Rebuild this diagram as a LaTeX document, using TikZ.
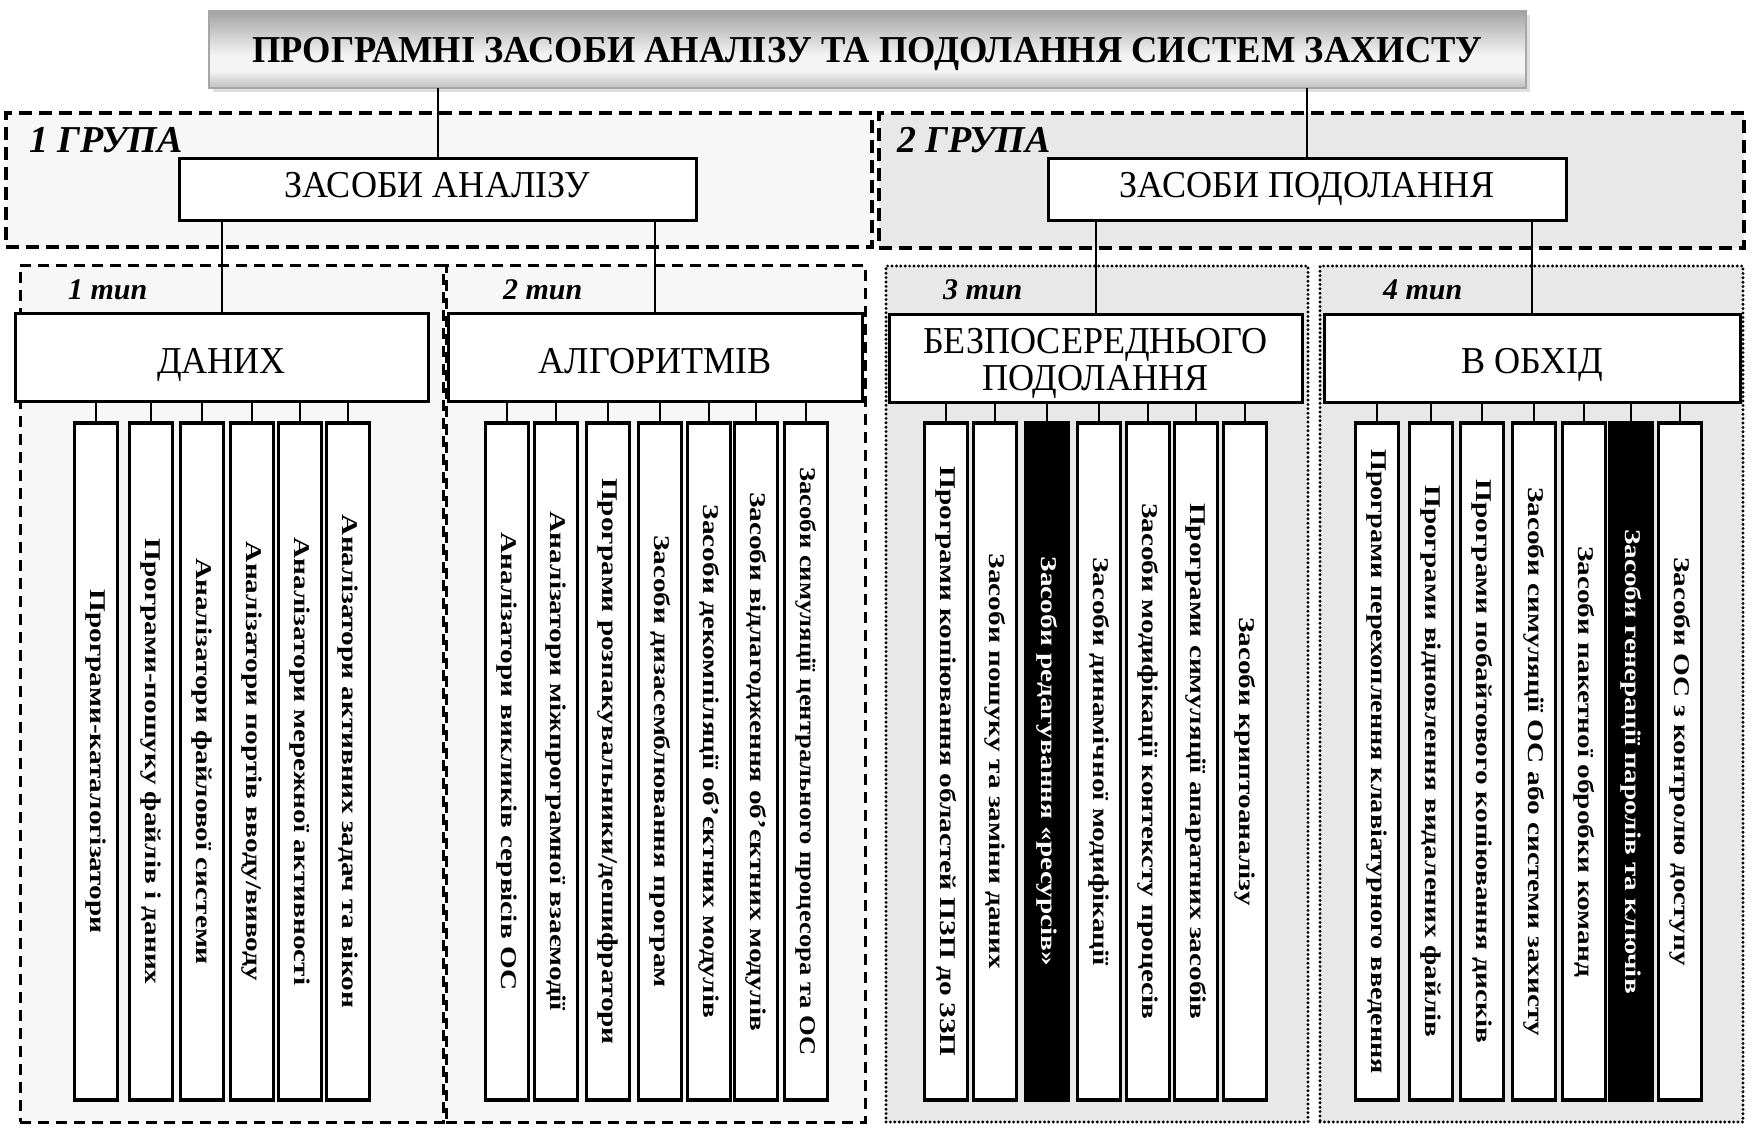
\documentclass[tikz,border=0pt]{standalone}
\usepackage{fontspec}
\setmainfont{Liberation Serif}
% slightly narrow faces for the box captions and the title
\newfontfamily\boxfont[FakeStretch=0.95]{Liberation Serif}
\newfontfamily\titlefont[FakeStretch=0.96]{Liberation Serif}
% wide bold faces for the vertical item labels (the longest ones a little narrower)
\newfontfamily\leaffont[FakeStretch=1.3]{Liberation Serif}
\newfontfamily\leaffontM[FakeStretch=1.25]{Liberation Serif}
\newfontfamily\leaffontN[FakeStretch=1.18]{Liberation Serif}
\usetikzlibrary{fit}

\definecolor{paleA}{HTML}{F7F7F7}
\definecolor{paleB}{HTML}{E8E8E8}
\definecolor{ttlTop}{HTML}{A3A3A3}
\definecolor{ttlMid}{HTML}{F4F4F4}
\definecolor{ttlBot}{HTML}{BDBDBD}
% title bar: dark top, light band low in the middle, grey bottom
\pgfdeclareverticalshading{ttlshade}{100bp}{color(0bp)=(ttlBot); color(25bp)=(ttlBot); color(36bp)=(ttlMid); color(46bp)=(ttlMid); color(75bp)=(ttlTop); color(100bp)=(ttlTop)}

\begin{document}
\begin{tikzpicture}[x=0.5pt, y=-0.5pt,
  every node/.style={inner sep=0pt, outer sep=0pt},
  grp/.style={draw, line width=2pt, dash pattern=on 6.5pt off 3.5pt},
  grpA/.style={grp, fill=paleA},
  grpB/.style={grp, fill=paleB},
  typeA/.style={draw, line width=1.5pt, dash pattern=on 5.5pt off 3.5pt, fill=paleA},
  typeB/.style={draw, line width=1.6pt, dash pattern=on 0pt off 2.2pt, line cap=round, fill=paleB},
  box/.style={draw, line width=1.5pt, fill=white},
  caption/.style={anchor=base, font=\boxfont\fontsize{19}{22}\selectfont},
  grplab/.style={anchor=base west, font=\bfseries\itshape\fontsize{19}{22}\selectfont},
  typelab/.style={anchor=base west, font=\bfseries\itshape\fontsize{15}{18}\selectfont},
  leaf/.style={box, line width=1.6pt, rotate=-90, minimum width=338.5pt, minimum height=21.5pt,
    font=\leaffont\bfseries\fontsize{11.25}{13}\selectfont},
  leafM/.style={leaf, font=\leaffontM\bfseries\fontsize{11.25}{13}\selectfont},
  leafN/.style={leaf, font=\leaffontN\bfseries\fontsize{11.25}{13}\selectfont},
  dark/.style={fill=black, text=white},
  conn/.style={line width=1pt}]

\fill[white] (0,0) rectangle (1754,1129);
\useasboundingbox (0,0) rectangle (1754,1129);

% title bar with its soft shadow
\fill[gray!25] (213,15) rectangle (1530,92);
\node[shade, shading=ttlshade, draw=gray!70, line width=0.6pt,
  minimum width=658.5pt, minimum height=38.5pt,
  font=\titlefont\bfseries\fontsize{19}{22}\selectfont, text height=12.6pt, text depth=0pt] (title)
  at (867.5,49.5) {ПРОГРАМНІ ЗАСОБИ АНАЛІЗУ ТА ПОДОЛАННЯ СИСТЕМ ЗАХИСТУ};

% the two groups
\node[grpA, fit={(6,113)(872,247)}] (g1) {};
\node[grpB, fit={(879,113)(1744,248)}] (g2) {};
\node[grplab] (g1lab) at (29,152) {1 ГРУПА};
\node[grplab] (g2lab) at (897,152) {2 ГРУПА};

% the four types
\node[typeA, fit={(20,265)(443,1122)}] (t1) {};
\node[typeA, fit={(446,265)(865,1122)}] (t2) {};
\node[typeB, fit={(886,266)(1308,1122)}] (t3) {};
\node[typeB, fit={(1320,266)(1743,1122)}] (t4) {};
\node[typelab] (t1lab) at (68,299) {1 тип};
\node[typelab] (t2lab) at (503,299) {2 тип};
\node[typelab] (t3lab) at (943,299) {3 тип};
\node[typelab] (t4lab) at (1383,299) {4 тип};

% second level
\node[box, minimum width=258.5pt, minimum height=31pt] (za) at (437.5,189) {};
\node[box, minimum width=259pt, minimum height=31pt] (zp) at (1307,189) {};
\node[caption] (zatxt) at (437.5,197) {ЗАСОБИ АНАЛІЗУ};
\node[caption] (zptxt) at (1307,197) {ЗАСОБИ ПОДОЛАННЯ};

% third level
\node[box, minimum width=206.5pt, minimum height=44pt] (dan) at (221.5,357) {};
\node[box, minimum width=207pt, minimum height=44pt] (alg) at (655,357) {};
\node[box, minimum width=206.5pt, minimum height=44pt] (bp) at (1095.5,358) {};
\node[box, minimum width=208pt, minimum height=44pt] (obh) at (1532,358) {};
\node[caption] (dantxt) at (221.5,373) {ДАНИХ};
\node[caption] (algtxt) at (655,373) {АЛГОРИТМІВ};
\node[caption] (bptxtA) at (1095.5,353) {БЕЗПОСЕРЕДНЬОГО};
\node[caption] (bptxtB) at (1095.5,390) {ПОДОЛАННЯ};
\node[caption] (obhtxt) at (1532,373) {В ОБХІД};

% items of type 1
\node[leaf] (a1) at (96,761.5)  {Програми-каталогізатори};
\node[leaf] (a2) at (151,761.5) {Програми-пошуку файлів і даних};
\node[leaf] (a3) at (202,761.5) {Аналізатори файлової системи};
\node[leaf] (a4) at (252,761.5) {Аналізатори портів вводу/виводу};
\node[leaf] (a5) at (300,761.5) {Аналізатори мережної активності};
\node[leaf] (a6) at (348,761.5) {Аналізатори активних задач та вікон};

% items of type 2
\node[leaf] (b1) at (507,761.5) {Аналізатори викликів сервісів ОС};
\node[leaf] (b2) at (556,761.5) {Аналізатори міжпрограмної взаємодії};
\node[leaf] (b3) at (608,761.5) {Програми розпакувальники/дешифратори};
\node[leaf] (b4) at (660,761.5) {Засоби дизасемблювання програм};
\node[leaf] (b5) at (709,761.5) {Засоби декомпіляції об’єктних модулів};
\node[leaf] (b6) at (756,761.5) {Засоби відлагодження об’єктних модулів};
\node[leafN] (b7) at (806,761.5) {Засоби симуляції центрального процесора та ОС};

% items of type 3
\node[leaf] (c1) at (946,761.5)  {Програми копіювання областей ПЗП до ЗЗП};
\node[leaf] (c2) at (995,761.5)  {Засоби пошуку та заміни даних};
\node[leaf, dark] (c3) at (1047,761.5) {Засоби редагування «ресурсів»};
\node[leaf] (c4) at (1099,761.5) {Засоби динамічної модифікації};
\node[leaf] (c5) at (1148,761.5) {Засоби модифікації контексту процесів};
\node[leaf] (c6) at (1196,761.5) {Програми симуляції апаратних засобів};
\node[leaf] (c7) at (1245,761.5) {Засоби криптоаналізу};

% items of type 4
\node[leafM] (d1) at (1377,761.5) {Програми перехоплення клавіатурного введення};
\node[leaf] (d2) at (1431,761.5) {Програми відновлення видалених файлів};
\node[leaf] (d3) at (1482,761.5) {Програми побайтового копіювання дисків};
\node[leaf] (d4) at (1534,761.5) {Засоби симуляції ОС або системи захисту};
\node[leaf] (d5) at (1584,761.5) {Засоби пакетної обробки команд};
\node[leaf, dark] (d6) at (1631,761.5) {Засоби генерації паролів та ключів};
\node[leaf] (d7) at (1680,761.5) {Засоби ОС з контролю доступу};

% connectors
\draw[conn] (title.south -| za.north) -- (za.north);
\draw[conn] (title.south -| zp.north) -- (zp.north);
\draw[conn] (za.south -| dan.north) -- (dan.north);
\draw[conn] (za.south -| alg.north) -- (alg.north);
\draw[conn] (zp.south -| bp.north) -- (bp.north);
\draw[conn] (zp.south -| obh.north) -- (obh.north);
\foreach \n in {a1,a2,a3,a4,a5,a6} \draw[conn] (\n.west) -- (\n.west |- dan.south);
\foreach \n in {b1,b2,b3,b4,b5,b6,b7} \draw[conn] (\n.west) -- (\n.west |- alg.south);
\foreach \n in {c1,c2,c3,c4,c5,c6,c7} \draw[conn] (\n.west) -- (\n.west |- bp.south);
\foreach \n in {d1,d2,d3,d4,d5,d6,d7} \draw[conn] (\n.west) -- (\n.west |- obh.south);
\end{tikzpicture}
\end{document}
